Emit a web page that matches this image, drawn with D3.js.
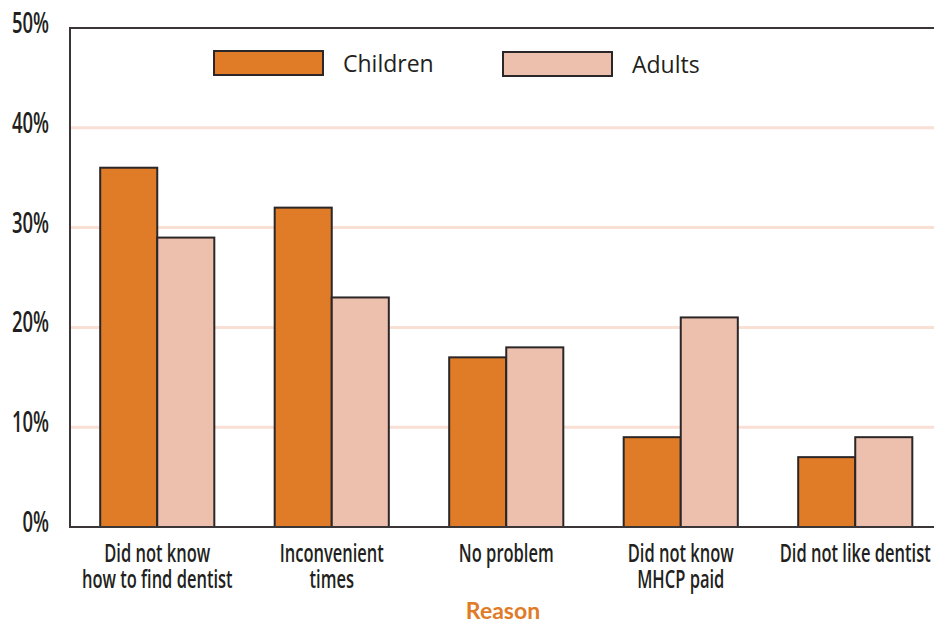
<!DOCTYPE html>
<html>
<head>
<meta charset="utf-8">
<script src="https://cdn.jsdelivr.net/npm/d3@7"></script>
<style>
  body { margin: 0; background: #fff; }
  .tick-lab, .cat-lab { font-family: "Open Sans", sans-serif; font-weight: 600; fill: #231f20; }
  .leg-lab { font-family: "Open Sans", sans-serif; fill: #231f20; }
</style>
</head>
<body>
<svg id="chart" width="934" height="622"></svg>
<script>
// reasons (two-line labels split with |)
let reasons = ["Did not know|how to find dentist", "Inconvenient|times", "No problem", "Did not know|MHCP paid", "Did not like dentist"];
let series = ["Children", "Adults"];
let children = [36, 32, 17, 9, 7];
let adults = [29, 23, 18, 21, 9];
let yTicks = [0, 10, 20, 30, 40, 50];
let colors = ["#e07b28", "#edc0ae"];

let svg = d3.select('#chart');
let mLeft = 70, mTop = 28, mBottom = 527, mRight = 942.5;
let squeeze = 0.66; // condensed look for axis text

let y = d3.scaleLinear().domain([0, 50]).range([mBottom, mTop]);
let x0 = d3.scaleBand().domain(reasons).range([mLeft, mRight])
  .paddingInner(0.346).paddingOuter(0.173);
let x1 = d3.scaleBand().domain(series).range([0, x0.bandwidth()]);

// gridlines
svg.append('g').selectAll('line')
  .data(yTicks.filter(d => d > 0 && d < 50))
  .enter().append('line')
  .attr('x1', mLeft).attr('x2', 934)
  .attr('y1', d => y(d)).attr('y2', d => y(d))
  .attr('stroke', '#fadfd5').attr('stroke-width', 3);

// y tick labels
svg.append('g').selectAll('g')
  .data(yTicks)
  .enter().append('g')
  .attr('transform', d => 'translate(49,' + (y(d) + 5) + ') scale(' + squeeze + ',1)')
  .append('text')
  .attr('class', 'tick-lab')
  .attr('text-anchor', 'end')
  .attr('font-size', 28)
  .text(d => d + '%');

// bars
let rows = reasons.map((r, i) => ({reason: r, vals: [children[i], adults[i]]}));
let groups = svg.append('g').selectAll('g')
  .data(rows)
  .enter().append('g')
  .attr('transform', d => 'translate(' + x0(d.reason) + ',0)');

groups.selectAll('rect')
  .data(d => d.vals.map((v, j) => ({s: series[j], v: v, j: j})))
  .enter().append('rect')
  .attr('x', d => x1(d.s))
  .attr('y', d => y(d.v))
  .attr('width', x1.bandwidth())
  .attr('height', d => mBottom - y(d.v))
  .attr('fill', d => colors[d.j])
  .attr('stroke', '#2b2627').attr('stroke-width', 2);

// axes frame
svg.append('path')
  .attr('d', 'M' + 934 + ',' + mTop + 'H' + mLeft + 'V' + mBottom + 'H' + 934)
  .attr('fill', 'none').attr('stroke', '#3a3536').attr('stroke-width', 2);

// category labels
let cl = svg.append('g').selectAll('g')
  .data(reasons)
  .enter().append('g')
  .attr('transform', d => 'translate(' + (x0(d) + x0.bandwidth() / 2) + ',562) scale(' + squeeze + ',1)')
  .append('text')
  .attr('class', 'cat-lab')
  .attr('text-anchor', 'middle')
  .attr('font-size', 25);
cl.selectAll('tspan')
  .data(d => d.split('|'))
  .enter().append('tspan')
  .attr('x', 0)
  .attr('dy', (d, i) => i ? 26 : 0)
  .text(d => d);

// axis title
svg.append('text')
  .attr('x', 503).attr('y', 619)
  .attr('text-anchor', 'middle')
  .attr('font-family', 'Lato, sans-serif')
  .attr('font-weight', 'bold')
  .attr('font-size', 23)
  .attr('fill', '#e07b28')
  .text('Reason');

// legend
let legX = [214, 503];
let leg = svg.append('g').selectAll('g')
  .data(series)
  .enter().append('g')
  .attr('transform', (d, i) => 'translate(' + legX[i] + ',' + (51 + i) + ')');
leg.append('rect')
  .attr('width', 109).attr('height', 24)
  .attr('fill', (d, i) => colors[i])
  .attr('stroke', '#2b2627').attr('stroke-width', 2);
leg.append('text')
  .attr('class', 'leg-lab')
  .attr('x', 129).attr('y', 21)
  .attr('font-size', 23)
  .text(d => d);
</script>
</body>
</html>
